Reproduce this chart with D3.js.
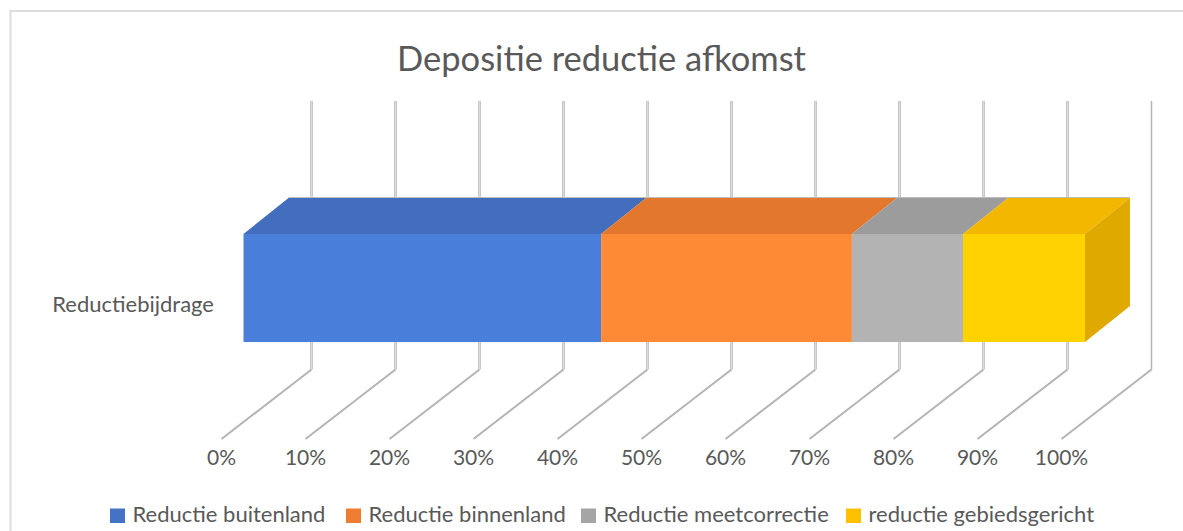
<!DOCTYPE HTML>
<html>
<head>
<meta charset="utf-8">
<script src="https://d3js.org/d3.v7.min.js"></script>
<style>
  html, body { margin: 0; padding: 0; background: #fff; }
  svg { display: block; }
  text { font-family: Lato, "Open Sans", sans-serif; fill: #595959; }
</style>
</head>
<body>
<div id="chart"></div>
<script>
var categories = ["Reductiebijdrage"];
var seriesNames = ["Reductie buitenland", "Reductie binnenland", "Reductie meetcorrectie", "reductie gebiedsgericht"];
var seriesValues = [42.5, 29.8, 13.2, 14.5];
var tickValues = [0, 10, 20, 30, 40, 50, 60, 70, 80, 90, 100];
var frontColors = ["#4a7edb", "#ff8a36", "#b3b3b3", "#ffd200"];
var topColors = ["#436ebd", "#e4772e", "#9c9c9c", "#f3b700"];
var sideColor = "#dfa900";
var legendColors = ["#4472c4", "#ed7d31", "#a5a5a5", "#ffc000"];
var legendX = [110, 346, 581, 846];

var width = 1183, height = 531;
var svg = d3.select("#chart").append("svg").attr("width", width).attr("height", height);

// chart border, open at the right and bottom like the cropped screenshot
svg.append("path").attr("d", "M10.5 531V11H1183").attr("fill", "none").attr("stroke", "#dcdcdc").attr("stroke-width", 2);

svg.append("text").attr("x", 601.5).attr("y", 71).attr("text-anchor", "middle")
  .style("font-size", "34.5px").text("Depositie reductie afkomst");

// floor and back wall of the 3d box
var x = d3.scaleLinear().domain([0, 100]).range([221.5, 1061.5]);
var wallShift = 90, floorFront = 439, floorBack = 369.5, wallTop = 101;

var grid = svg.append("g").attr("fill", "none").attr("stroke", "#b4b4b4");
tickValues.forEach(function(t) {
  var bx = x(t) + wallShift;
  grid.append("path").attr("d", "M" + x(t) + " " + floorFront + "L" + bx + " " + floorBack).attr("stroke-width", 2);
  grid.append("path").attr("d", "M" + bx + " " + floorBack + "V" + wallTop).attr("stroke-width", t === 100 ? 1.5 : 2.5);
  if (t !== 100) {
    grid.append("path").attr("d", "M" + bx + " " + floorBack + "V" + wallTop).attr("stroke", "#dcdcdc").attr("stroke-width", 1);
  }
});

svg.append("g").selectAll("text").data(tickValues).join("text")
  .attr("x", function(d) { return x(d); })
  .attr("y", 465).attr("text-anchor", "middle")
  .style("font-size", "21px")
  .text(function(d) { return d + "%"; });

// stacked bar, the box sits a bit wider than the floor scale
var barX = d3.scaleLinear().domain([0, 100]).range([243.5, 1085]);
var barShift = 45, barTop = 234, barBottom = 342, barTopBack = 198;
var stacked = d3.cumsum(seriesValues);
var bars = svg.append("g");

seriesValues.forEach(function(v, i) {
  var x0 = stacked[i] - v, x1 = stacked[i];
  bars.append("polygon").attr("fill", topColors[i]).attr("points", [
    [barX(x0), barTop], [barX(x1), barTop],
    [barX(x1) + barShift, barTopBack], [barX(x0) + barShift, barTopBack]
  ].join(" "));
  bars.append("rect").attr("fill", frontColors[i])
    .attr("x", barX(x0)).attr("y", barTop)
    .attr("width", barX(x1) - barX(x0)).attr("height", barBottom - barTop);
});

var last = stacked[stacked.length - 1];
bars.append("polygon").attr("fill", sideColor).attr("points", [
  [barX(last), barTop], [barX(last) + barShift, barTopBack],
  [barX(last) + barShift, barTopBack + barBottom - barTop], [barX(last), barBottom]
].join(" "));

// thin light edge along the back of the box top
bars.append("path").attr("fill", "none").attr("stroke", "#bdbdbd").attr("stroke-width", 1)
  .attr("d", "M" + (barX(0) + barShift) + " " + (barTopBack - 0.5) + "H" + (barX(last) + barShift));

svg.append("text").attr("x", 214).attr("y", 312).attr("text-anchor", "end")
  .style("font-size", "22px").text(categories[0]);

var legend = svg.append("g").selectAll("g").data(seriesNames).join("g")
  .attr("transform", function(d, i) { return "translate(" + legendX[i] + ",0)"; });
legend.append("rect").attr("y", 508.5).attr("width", 15).attr("height", 14.5)
  .attr("fill", function(d, i) { return legendColors[i]; });
legend.append("text").attr("x", 22.5).attr("y", 522).style("font-size", "22px").text(function(d) { return d; });
</script>
</body>
</html>
